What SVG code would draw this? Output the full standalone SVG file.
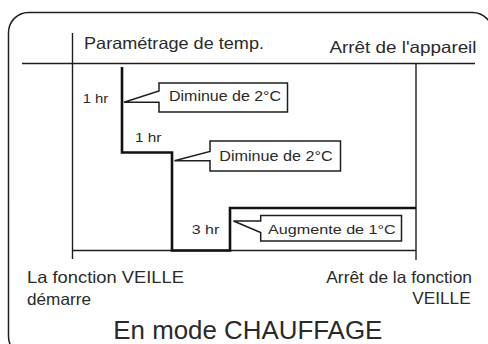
<svg xmlns="http://www.w3.org/2000/svg" width="488" height="344" viewBox="0 0 488 344">
<style>
text{font-family:"Liberation Sans",Arial,sans-serif;fill:#2a2a2a;}
.thin{fill:none;stroke:#1e1e1e;stroke-width:1.4;}
.thick{fill:none;stroke:#111;stroke-width:2.6;stroke-linejoin:miter;}
.callout{fill:#fff;stroke:#1e1e1e;stroke-width:1.5;stroke-linejoin:miter;}
.lbl{font-size:16.5px;}
.hr{font-size:13px;}
.co{font-size:14.5px;}
</style>
<rect x="8.5" y="12.5" width="484" height="344" rx="20" fill="#fff" stroke="#1e1e1e" stroke-width="1.5"/>
<g id="connectors">
<line class="thin" x1="22" y1="63.5" x2="475" y2="63.5"/>
<line class="thin" x1="72.5" y1="33" x2="72.5" y2="259"/>
<line class="thin" x1="416" y1="63.5" x2="416" y2="260"/>
<line class="thin" x1="72.5" y1="250.5" x2="416" y2="250.5"/>
<path class="thick" d="M122,67 V152.5 H172 V250.5 H230 V208 H416"/>
</g>
<g id="header-param"><text class="lbl" x="84" y="48.5" textLength="180" lengthAdjust="spacingAndGlyphs">Paramétrage de temp.</text></g>
<g id="header-arret"><text class="lbl" x="329.5" y="52.5" textLength="147" lengthAdjust="spacingAndGlyphs">Arrêt de l'appareil</text></g>
<g id="hr1"><text class="hr" x="82.7" y="103.3" textLength="25.6" lengthAdjust="spacingAndGlyphs">1 hr</text></g>
<g id="hr2"><text class="hr" x="135" y="141.7" textLength="26.5" lengthAdjust="spacingAndGlyphs">1 hr</text></g>
<g id="hr3"><text class="hr" x="191.7" y="234.3" textLength="27.6" lengthAdjust="spacingAndGlyphs">3 hr</text></g>
<g id="callout1">
<path class="callout" d="M159,83 H287.5 V112 H159 V102.3 H124 L159,91 Z"/>
<text class="co" x="169" y="101" textLength="112" lengthAdjust="spacingAndGlyphs">Diminue de 2°C</text>
</g>
<g id="callout2">
<path class="callout" d="M210,141 H340.5 V171 H210 V160.7 H174.5 L210,151.5 Z"/>
<text class="co" x="219.3" y="160.5" textLength="113.4" lengthAdjust="spacingAndGlyphs">Diminue de 2°C</text>
</g>
<g id="callout3">
<path class="callout" d="M260.7,215.5 H401.5 V241 H260.7 V232.5 L233.5,221 H260.7 Z"/>
<text class="hr" x="268" y="233.7" textLength="127.7" lengthAdjust="spacingAndGlyphs">Augmente de 1°C</text>
</g>
<g id="start-label">
<text class="lbl" x="27" y="283" textLength="157" lengthAdjust="spacingAndGlyphs">La fonction VEILLE</text>
<text class="lbl" x="27" y="304.7" textLength="64" lengthAdjust="spacingAndGlyphs">démarre</text>
</g>
<g id="stop-label">
<text class="lbl" x="326.3" y="283" textLength="145.7" lengthAdjust="spacingAndGlyphs">Arrêt de la fonction</text>
<text class="lbl" x="412.3" y="304" textLength="58.4" lengthAdjust="spacingAndGlyphs">VEILLE</text>
</g>
<g id="title"><text x="113.3" y="338.7" font-size="25" textLength="269" lengthAdjust="spacingAndGlyphs">En mode CHAUFFAGE</text></g>
</svg>
